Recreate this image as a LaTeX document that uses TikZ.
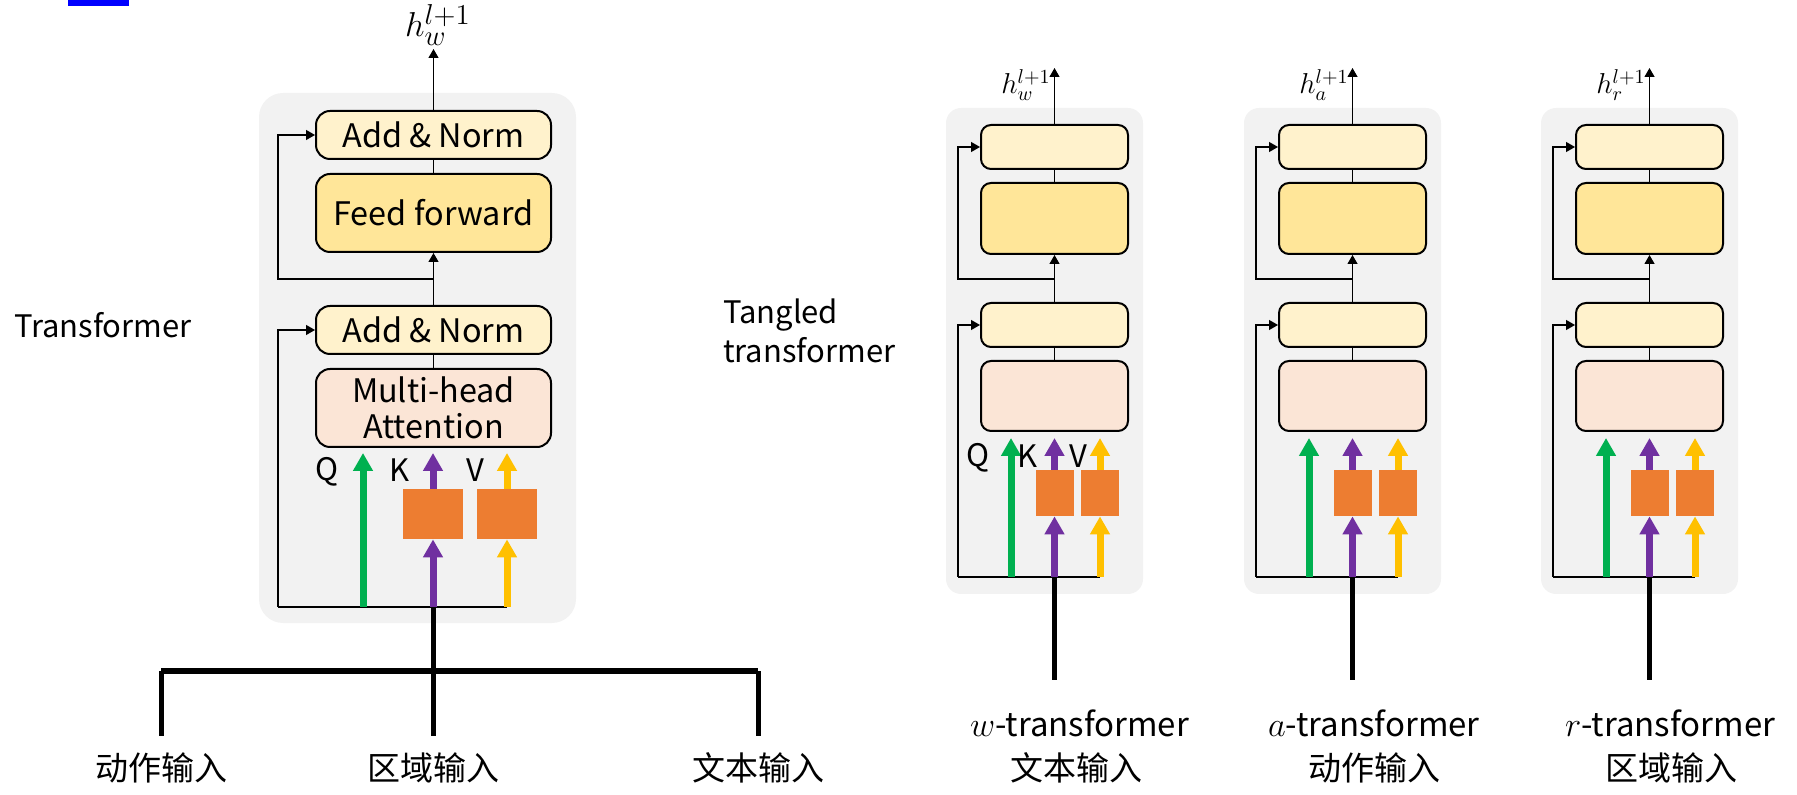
\documentclass[tikz,border=0pt]{standalone}
\usepackage{fontspec}
\usepackage{tikz}
\usetikzlibrary{arrows.meta,calc}
\setmainfont{Noto Sans CJK SC}
\definecolor{bggray}{HTML}{F2F2F2}
\definecolor{normfill}{HTML}{FFF2CC}
\definecolor{fffill}{HTML}{FFE699}
\definecolor{attfill}{HTML}{FBE5D6}
\definecolor{projfill}{HTML}{ED7D31}
\definecolor{qgreen}{HTML}{00B050}
\definecolor{kpurple}{HTML}{7030A0}
\definecolor{vyellow}{HTML}{FFC000}

\begin{document}
\begin{tikzpicture}[x=0.5pt, y=-0.5pt,
  layer/.style={draw=black, line width=1pt, inner sep=0pt, align=center, font=\fontsize{16.2}{18}\selectfont},
  proj/.style={fill=projfill, inner sep=0pt},
  link/.style={line width=0.6pt},
  linkarr/.style={line width=0.6pt, -{Triangle[length=4.5pt,width=5pt]}},
  qkv/.style={line width=3.5pt, draw=#1, -{Triangle[length=9pt,width=9.5pt]}},
  stem/.style={line width=2.5pt},
  lab/.style={font=\fontsize{16.5}{19.5}\selectfont},
  qlab/.style={font=\fontsize{15.5}{17}\selectfont}]
\useasboundingbox (0,0) rectangle (1797,795);
\fill[blue] (68,0) rectangle (129,6);

% plain transformer
\fill[bggray, rounded corners=12pt] (259,93) rectangle (576,623);
\node[layer, fill=normfill, rounded corners=7pt, minimum width=117.5pt, minimum height=24pt] (tnorm2) at (433.5,135) {Add \& Norm};
\node[layer, fill=fffill, rounded corners=7pt, minimum width=117.5pt, minimum height=39pt] (tff) at (433.5,213) {Feed forward};
\node[layer, fill=normfill, rounded corners=7pt, minimum width=117.5pt, minimum height=24pt] (tnorm1) at (433.5,330) {Add \& Norm};
\node[layer, fill=attfill, rounded corners=7pt, minimum width=117.5pt, minimum height=39pt] (tatt) at (433.5,408) {Multi-head\\Attention};
\node[proj, minimum width=30pt, minimum height=25pt] (tk) at (433,514) {};
\node[proj, minimum width=30pt, minimum height=25pt] (tv) at (507,514) {};
\coordinate (tskip) at (278,607);
\coordinate (tq) at (363,607);
\coordinate (tin) at (433,607);
\coordinate (tvin) at (507,607);
\coordinate (tbranch) at (433.5,279);
\coordinate (tout) at (433.5,49);
\node[font=\fontsize{19}{22}\selectfont, inner sep=1pt] (thw) at (438,25) {$h_w^{l+1}$};

\draw[link] (tskip) -- (tvin);
\draw[linkarr] (tskip) |- (tnorm1.west);
\draw[link] (tatt.north) -- (tnorm1.south);
\draw[linkarr] (tnorm1.north) -- (tff.south);
\draw[linkarr] (tbranch) -- (tbranch -| tskip) |- (tnorm2.west);
\draw[link] (tff.north) -- (tnorm2.south);
\draw[linkarr] (tnorm2.north) -- (tout);

\draw[qkv=qgreen] (tq) -- ($(tq |- tatt.south)+(0,5)$);
\draw[qkv=kpurple] (tin) -- (tin |- tk.south);
\draw[qkv=kpurple] (tk.north) -- ($(tk.north |- tatt.south)+(0,5)$);
\draw[qkv=vyellow] (tvin) -- (tvin |- tv.south);
\draw[qkv=vyellow] (tv.north) -- ($(tv.north |- tatt.south)+(0,5)$);
\node[qlab] (tQ) at (327,472) {Q};
\node[qlab] (tK) at (400,470) {K};
\node[qlab] (tV) at (475,470) {V};

\node[lab, font=\fontsize{15.5}{19.5}\selectfont, anchor=west] (ttitle) at (7,325) {Transformer};

% inputs of the plain transformer
\coordinate (bushub) at (433,671);
\coordinate (busl) at (161,671);
\coordinate (busr) at (758,671);
\draw[stem] (tin) -- (bushub);
\draw[line width=3pt] (busl) -- (busr);
\foreach \x/\nm/\lab in {161/act/动作输入, 433/reg/区域输入, 758/txt/文本输入}{
  \coordinate (d\nm) at (\x,671);
  \node[lab] (l\nm) at (\x,768) {\lab};
  \draw[stem] (d\nm) -- ++(0,65);
}

% tangled transformers
\node[lab, font=\fontsize{15.5}{19.5}\selectfont, anchor=west, align=left] (gtitle) at (716,331) {Tangled\\transformer};
\foreach \gx/\nm/\cn in {946/w/文本输入, 1244/a/动作输入, 1541/r/区域输入}{
  \fill[bggray, rounded corners=7.5pt] (\gx,108) rectangle ({\gx+197},594);
  \node[layer, fill=normfill, rounded corners=5pt, minimum width=73.5pt, minimum height=22pt] (norm2\nm) at ({\gx+108.5},147) {};
  \node[layer, fill=fffill, rounded corners=5pt, minimum width=73.5pt, minimum height=35.5pt] (ff\nm) at ({\gx+108.5},218.5) {};
  \node[layer, fill=normfill, rounded corners=5pt, minimum width=73.5pt, minimum height=22pt] (norm1\nm) at ({\gx+108.5},325) {};
  \node[layer, fill=attfill, rounded corners=5pt, minimum width=73.5pt, minimum height=35pt] (att\nm) at ({\gx+108.5},396) {};
  \node[proj, minimum width=19pt, minimum height=23pt] (k\nm) at ({\gx+108.5},493) {};
  \node[proj, minimum width=19pt, minimum height=23pt] (v\nm) at ({\gx+154},493) {};
  \coordinate (skip\nm) at ({\gx+12},577);
  \coordinate (q\nm) at ({\gx+65},577);
  \coordinate (in\nm) at ({\gx+108.5},577);
  \coordinate (vin\nm) at ({\gx+154},577);
  \coordinate (branch\nm) at ({\gx+108.5},279);
  \coordinate (out\nm) at ({\gx+108.5},68);
  \coordinate (foot\nm) at ({\gx+108.5},680);
  \node[font=\fontsize{14}{16}\selectfont, inner sep=0.5pt] (h\nm) at ({\gx+80},85) {$h_\nm^{l+1}$};

  \draw[link] (skip\nm) -- (vin\nm);
  \draw[linkarr] (skip\nm) |- (norm1\nm.west);
  \draw[link] (att\nm.north) -- (norm1\nm.south);
  \draw[linkarr] (norm1\nm.north) -- (ff\nm.south);
  \draw[linkarr] (branch\nm) -- (branch\nm -| skip\nm) |- (norm2\nm.west);
  \draw[link] (ff\nm.north) -- (norm2\nm.south);
  \draw[linkarr] (norm2\nm.north) -- (out\nm);

  \draw[qkv=qgreen] (q\nm) -- ($(q\nm |- att\nm.south)+(0,6)$);
  \draw[qkv=kpurple] (in\nm) -- (in\nm |- k\nm.south);
  \draw[qkv=kpurple] (k\nm.north) -- ($(k\nm.north |- att\nm.south)+(0,6)$);
  \draw[qkv=vyellow] (vin\nm) -- (vin\nm |- v\nm.south);
  \draw[qkv=vyellow] (v\nm.north) -- ($(v\nm.north |- att\nm.south)+(0,6)$);
  \draw[line width=2.3pt] (in\nm) -- (foot\nm);

  \node[lab, anchor=west] (title\nm) at ({\gx+17},723) {$\nm$-transformer};
  \node[lab, anchor=west] (cn\nm) at ({\gx+57},768) {\cn};
}
\node[qlab] (wQ) at (978,458) {Q};
\node[qlab] (wK) at (1027,456) {K};
\node[qlab] (wV) at (1078,456) {V};
\end{tikzpicture}
\end{document}
